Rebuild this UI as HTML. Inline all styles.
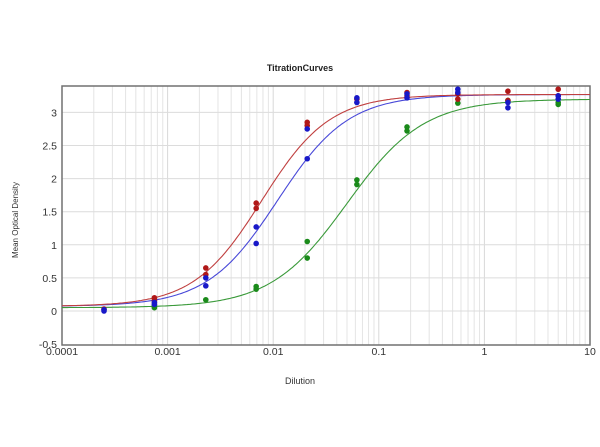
<!DOCTYPE html>
<html><head><meta charset="utf-8"><style>
html,body{margin:0;padding:0;background:#fff;width:600px;height:447px;overflow:hidden}
svg{display:block;font-family:"Liberation Sans",Arial,sans-serif}
</style></head><body>
<svg id="s" width="600" height="447" xmlns="http://www.w3.org/2000/svg"></svg>
<script>
var L=62,R=590,T=86,B=345;
function X(v){return L+(Math.log10(v)+4)*105.6;}
function Y(v){return 311-v*66.2;}
var h='<rect width="600" height="447" fill="#fff"/>';
for(var d=-4;d<1;d++){for(var k=2;k<=9;k++){var x=X(k*Math.pow(10,d));h+='<line x1="'+x+'" y1="'+T+'" x2="'+x+'" y2="'+B+'" stroke="#e4e4e4" stroke-width="1"/>';}}
for(var d=-3;d<1;d++){var x=X(Math.pow(10,d));h+='<line x1="'+x+'" y1="'+T+'" x2="'+x+'" y2="'+B+'" stroke="#d8d8d8" stroke-width="1"/>';}
for(var v=0;v<=3;v+=0.5){var y=Y(v);h+='<line x1="'+L+'" y1="'+y+'" x2="'+R+'" y2="'+y+'" stroke="#dcdcdc" stroke-width="1"/>';}
h+='<rect x="'+L+'" y="'+T+'" width="'+(R-L)+'" height="'+(B-T)+'" fill="none" stroke="#707070" stroke-width="1.5"/>';
var yl=['-0.5','0','0.5','1','1.5','2','2.5','3'];
for(var i=0;i<yl.length;i++){h+='<text x="57" y="'+(Y(parseFloat(yl[i]))+4)+'" font-size="10.5" text-anchor="end" fill="#333">'+yl[i]+'</text>';}
var xl=['0.0001','0.001','0.01','0.1','1','10'];
for(var i=0;i<6;i++){h+='<text x="'+X(Math.pow(10,i-4))+'" y="355" font-size="10.5" text-anchor="middle" fill="#333">'+xl[i]+'</text>';}
h+='<text x="300" y="71" font-size="9" font-weight="bold" text-anchor="middle" fill="#222">TitrationCurves</text>';
h+='<text x="300" y="384" font-size="9" text-anchor="middle" fill="#333">Dilution</text>';
h+='<text transform="translate(18,220) rotate(-90)" font-size="8" text-anchor="middle" fill="#333">Mean Optical Density</text>';
function curve(b,t,ec,s,col){var p='';for(var i=0;i<=300;i++){var lx=-4+5*i/300,v=Math.pow(10,lx),r=Math.pow(v/ec,s),y=b+(t-b)*r/(1+r);p+=(i?'L':'M')+X(v).toFixed(1)+' '+Y(y).toFixed(1);}h+='<path d="'+p+'" fill="none" stroke="'+col+'" stroke-width="1.1"/>';}
curve(0.05,3.2,0.05,1.2,'#3a9a3a');
curve(0.07,3.27,0.011,1.3,'#4848d8');
curve(0.07,3.27,0.0078,1.35,'#c04040');
var xs=[0.00025,0.00075,0.0023,0.0069,0.021,0.062,0.185,0.56,1.67,5];
function pts(data,col){for(var i=0;i<data.length;i++){for(var j=0;j<data[i].length;j++){h+='<circle cx="'+X(xs[i])+'" cy="'+Y(data[i][j])+'" r="2.8" fill="'+col+'"/>';}}}
pts([[],[0.08,0.05],[0.17],[0.37,0.33],[1.05,0.8],[1.98,1.91],[2.78,2.72],[3.14],[3.18],[3.15,3.12]],'#1a8a1a');
pts([[0.03],[0.2,0.16],[0.65,0.55],[1.63,1.55],[2.85,2.8],[3.2],[3.3,3.25],[3.28,3.2],[3.32,3.18],[3.35,3.25]],'#b01818');
pts([[0.02,0.0],[0.13,0.1],[0.5,0.38],[1.27,1.02],[2.75,2.3],[3.22,3.15],[3.28,3.22],[3.35,3.3],[3.15,3.07],[3.25,3.2]],'#1818c8');
document.getElementById('s').innerHTML=h;
</script>
</body></html>
